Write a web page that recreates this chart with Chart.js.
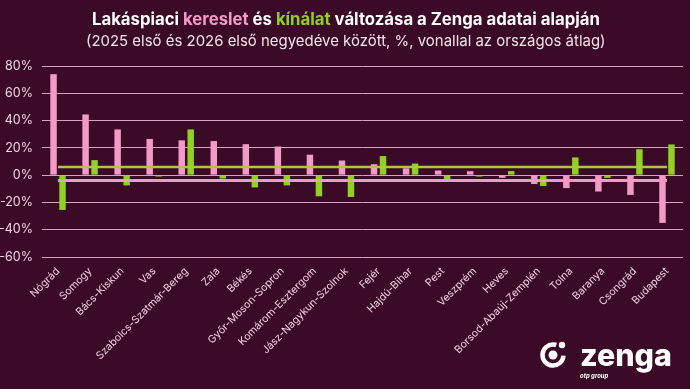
<!DOCTYPE html>
<html>
<head>
<meta charset="utf-8">
<script src="https://cdn.jsdelivr.net/npm/chart.js@4/dist/chart.umd.min.js"></script>
<style>
  html, body { margin: 0; padding: 0; background: #3a0a26; }
  #wrap { width: 690px; height: 389px; }
</style>
</head>
<body>
<div id="wrap"><canvas id="chart" width="690" height="389"></canvas></div>
<script>
// --- Data ---
const megyek = ['Nógrád', 'Somogy', 'Bács-Kiskun', 'Vas', 'Szabolcs-Szatmár-Bereg', 'Zala', 'Békés',
    'Győr-Moson-Sopron', 'Komárom-Esztergom', 'Jász-Nagykun-Szolnok', 'Fejér', 'Hajdú-Bihar', 'Pest',
    'Veszprém', 'Heves', 'Borsod-Abaúj-Zemplén', 'Tolna', 'Baranya', 'Csongrád', 'Budapest'];
const kereslet = [74, 44.5, 33.5, 26.5, 25.5, 25, 22.7, 21, 15, 10.7, 8, 5, 3.4, 2.9, -2, -6.5, -9.5, -12, -14.5, -35];
const kinalat = [-25.5, 11, -7.5, -1, 33.5, -2.5, -9, -7.5, -15.5, -16, 14, 8.5, -3.5, -1, 3, -8, 13, -2, 19, 22.5];
const keresletAtlag = -4;
const kinalatAtlag = 6;
const yTicks = [80, 60, 40, 20, 0, -20, -40, -60];

const BG = '#3a0a26';
const PINK = '#f59ac8';
const GREEN = '#8ed41f';
const TEXT = '#f3d3e6';
const FONT = 'Inter, Lato, sans-serif';

// fit a string to a target width
function fitFont(ctx, text, weight, width) {
    ctx.font = weight + ' 20px ' + FONT;
    const w = ctx.measureText(text).width;
    return 20 * width / w;
}

// background + title + logo
const decor = {
    id: 'decor',
    beforeDraw(chart) {
        const ctx = chart.ctx;
        ctx.save();
        ctx.fillStyle = BG;
        ctx.fillRect(0, 0, chart.width, chart.height);
        ctx.restore();
    },
    afterDraw(chart) {
        const ctx = chart.ctx;
        ctx.save();
        // title with coloured words
        const parts = [
            ['Lakáspiaci ', '#ffffff'],
            ['kereslet', PINK],
            [' és ', '#ffffff'],
            ['kínálat', GREEN],
            [' változása a Zenga adatai alapján', '#ffffff']
        ];
        const full = parts.map(p => p[0]).join('');
        const ts = fitFont(ctx, full, 'bold', 508);
        ctx.font = 'bold ' + ts + 'px ' + FONT;
        ctx.textBaseline = 'middle';
        let x = 92;
        parts.forEach(p => {
            ctx.fillStyle = p[1];
            ctx.fillText(p[0], x, 20);
            x += ctx.measureText(p[0]).width;
        });
        const sub = '(2025 első és 2026 első negyedéve között, %, vonallal az országos átlag)';
        const ss = fitFont(ctx, sub, 'normal', 520);
        ctx.font = ss + 'px ' + FONT;
        ctx.fillStyle = '#f1e4ec';
        ctx.fillText(sub, 86, 42);

        // logo
        const cx = 553, cy = 355;
        ctx.strokeStyle = '#ffffff';
        ctx.fillStyle = '#ffffff';
        ctx.lineWidth = 4.5;
        ctx.beginPath();
        ctx.arc(cx, cy, 10.5, 0.02 * Math.PI, 1.6 * Math.PI);
        ctx.stroke();
        ctx.beginPath();
        ctx.arc(cx, cy, 4.5, 0, 2 * Math.PI);
        ctx.fill();
        ctx.beginPath();
        ctx.arc(cx + 9, cy - 10, 3.2, 0, 2 * Math.PI);
        ctx.fill();
        ctx.textAlign = 'left';
        ctx.textBaseline = 'alphabetic';
        const zs = fitFont(ctx, 'zenga', '800', 92);
        ctx.font = '800 ' + zs + 'px ' + FONT;
        ctx.fillText('zenga', 580, 366);
        ctx.font = 'italic bold 6px ' + FONT;
        ctx.fillText('otp group', 580, 378);
        ctx.restore();
    }
};

new Chart(document.getElementById('chart'), {
    type: 'bar',
    data: {
        labels: megyek,
        datasets: [
            {
                type: 'line',
                label: 'Kínálat átlag',
                data: megyek.map(() => kinalatAtlag),
                borderColor: '#a9c84a',
                borderWidth: 2.5,
                pointRadius: 0,
                order: 0
            },
            {
                type: 'line',
                label: 'Kereslet átlag',
                data: megyek.map(() => keresletAtlag),
                borderColor: PINK,
                borderWidth: 3,
                pointRadius: 0,
                order: 0
            },
            {
                label: 'Kereslet',
                data: kereslet,
                backgroundColor: PINK,
                categoryPercentage: 0.56,
                barPercentage: 0.72,
                order: 1
            },
            {
                label: 'Kínálat',
                data: kinalat,
                backgroundColor: GREEN,
                categoryPercentage: 0.56,
                barPercentage: 0.72,
                order: 1
            }
        ]
    },
    options: {
        responsive: false,
        animation: false,
        layout: { padding: { top: 66, right: 7, left: 0, bottom: 0 } },
        plugins: {
            legend: { display: false },
            tooltip: { enabled: false }
        },
        scales: {
            x: {
                grid: { display: false, drawTicks: false },
                border: { display: false },
                ticks: {
                    color: TEXT,
                    font: { family: FONT, size: 10.5 },
                    maxRotation: 45,
                    minRotation: 45,
                    autoSkip: false,
                    padding: 8
                },
                afterFit: s => { s.height = 132; }
            },
            y: {
                min: -60,
                max: 80,
                afterBuildTicks: s => { s.ticks = yTicks.map(v => ({ value: v })); },
                grid: { color: '#d7a3c3', lineWidth: 1, drawTicks: false },
                border: { display: false },
                ticks: {
                    color: TEXT,
                    font: { family: FONT, size: 12.5 },
                    padding: 9,
                    callback: v => v + '%'
                },
                afterFit: s => { s.width = 42; }
            }
        }
    },
    plugins: [decor]
});
</script>
</body>
</html>
